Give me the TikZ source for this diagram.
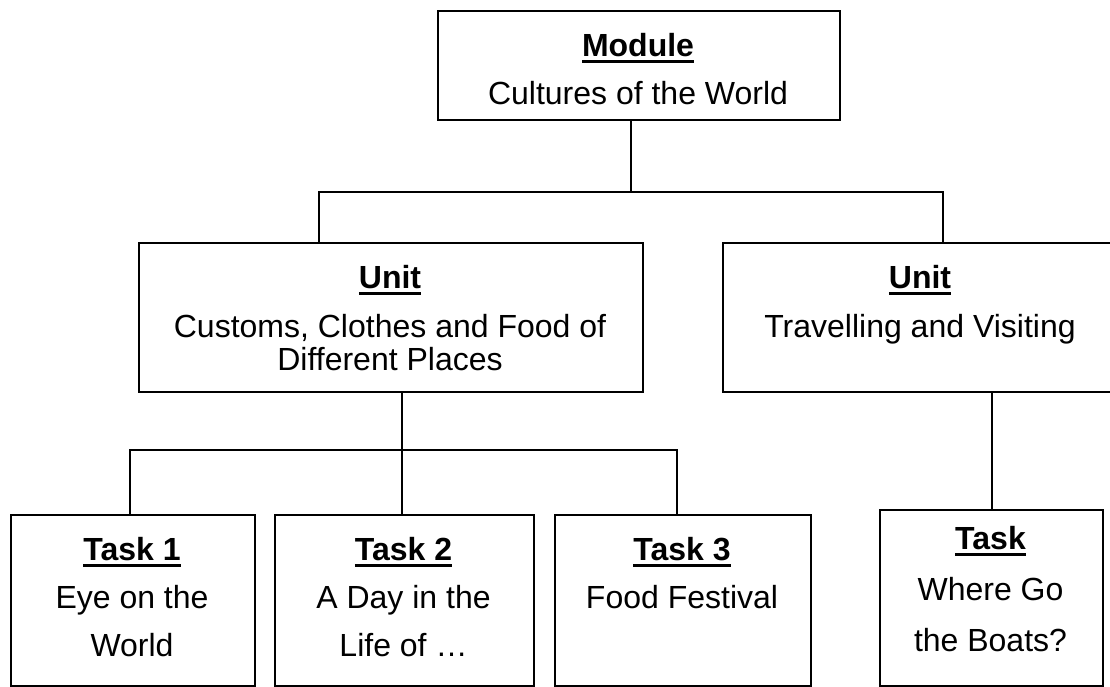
\documentclass[tikz,border=0pt]{standalone}
\usepackage{fontspec}
\setmainfont{Liberation Sans}
\newcommand\ulhead[1]{\setbox0=\hbox{\bfseries #1}\rlap{\rule[-6.5pt]{\wd0}{2.8pt}}\box0}
\tikzset{
  box/.style={draw, line width=2pt, inner sep=0pt, anchor=north west},
  lbl/.style={anchor=north, inner sep=0pt, align=center, font=\fontsize{32pt}{48pt}\selectfont},
  lbltight/.style={anchor=north, inner sep=0pt, align=center, font=\fontsize{32pt}{33pt}\selectfont},
  conn/.style={line width=2pt},
}
\begin{document}
\begin{tikzpicture}[x=1pt,y=-1pt]
\useasboundingbox (0,0) rectangle (1110,686);
\clip (0,0) rectangle (1110,686);
\fill[white] (0,0) rectangle (1110,686);
% boxes
\node[box, minimum width=402pt, minimum height=109pt] (mod) at (437,10) {};
\node[box, minimum width=504pt, minimum height=149pt] (ul) at (138,242) {};
\node[box, minimum width=396pt, minimum height=149pt] (ur) at (722,242) {};
\node[box, minimum width=244pt, minimum height=171pt] (t1) at (10,514) {};
\node[box, minimum width=259pt, minimum height=171pt] (t2) at (274,514) {};
\node[box, minimum width=256pt, minimum height=171pt] (t3) at (554,514) {};
\node[box, minimum width=223pt, minimum height=176pt] (tr) at (879,509) {};
% texts
\node[lbl] (modt) at (638,33) {\ulhead{Module}\\Cultures of the World};
\node[lbltight] (ult) at (390,265) {\ulhead{Unit}\\[16pt]Customs, Clothes and Food of\\Different Places};
\node[lbltight] (urt) at (920,265) {\ulhead{Unit}\\[16pt]Travelling and Visiting};
\node[lbl] (t1t) at (132,537) {\ulhead{Task 1}\\Eye on the\\World};
\node[lbl] (t2t) at (403.5,537) {\ulhead{Task 2}\\A Day in the\\Life of \ldots};
\node[lbl] (t3t) at (682,537) {\ulhead{Task 3}\\Food Festival};
\node[lbl, font=\fontsize{32pt}{51pt}\selectfont] (trt) at (990.5,526) {\ulhead{Task}\\Where Go\\the Boats?};
% connector points
\coordinate (j1) at (631,192);
\coordinate (xa) at (319,0);
\coordinate (xb) at (943,0);
\coordinate (j2) at (402,450);
\coordinate (xc) at (130,0);
\coordinate (xd) at (677,0);
\coordinate (xe) at (992,0);
% connectors
\draw[conn] (mod.south -| j1) -- (j1);
\draw[conn] (ul.north -| xa) |- (j1) -| (ur.north -| xb);
\draw[conn] (ul.south -| j2) -- (t2.north -| j2);
\draw[conn] (t1.north -| xc) |- (j2) -| (t3.north -| xd);
\draw[conn] (ur.south -| xe) -- (tr.north -| xe);
\end{tikzpicture}
\end{document}
